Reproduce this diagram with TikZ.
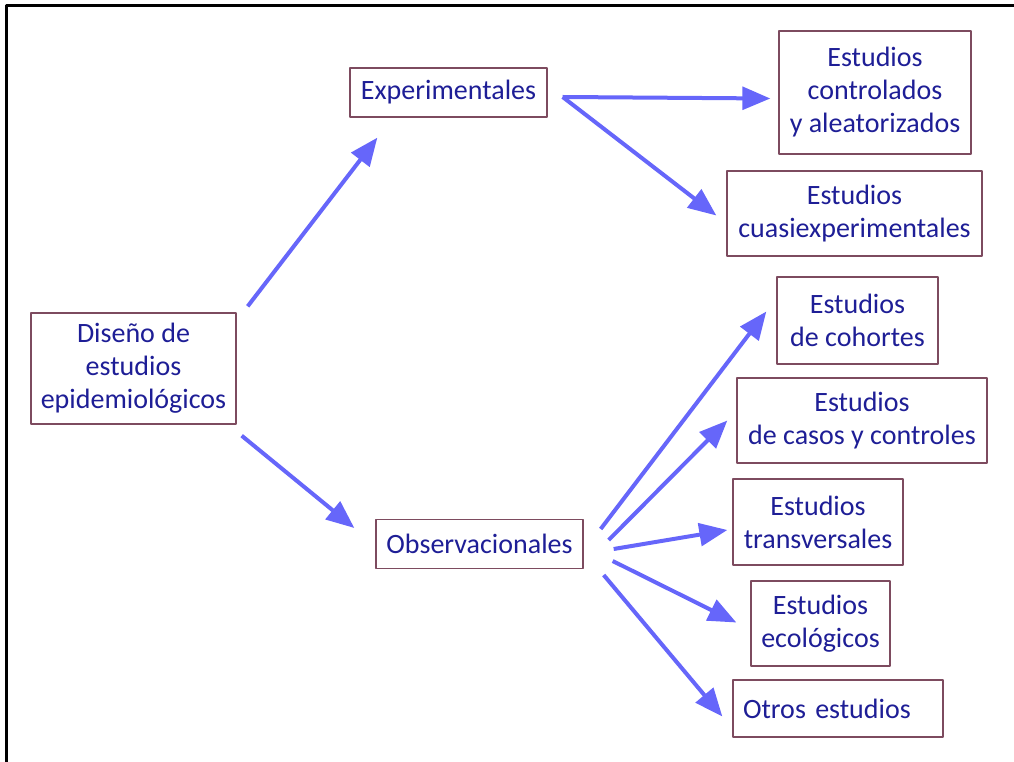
\documentclass[tikz,border=0pt]{standalone}
\usepackage{fontspec}
\setmainfont{Carlito}
\usetikzlibrary{arrows.meta}
\definecolor{txtblue}{RGB}{30,30,150}
\definecolor{boxline}{RGB}{125,75,95}
\definecolor{arrblue}{RGB}{102,102,250}
\begin{document}
\begin{tikzpicture}[x=0.75pt, y=-0.75pt, line join=round, font=\fontsize{21}{24.75}\selectfont,
	box/.style={draw=boxline, line width=1pt, fill=white, text=txtblue, align=center, inner sep=0pt},
	arr/.style={draw=arrblue, line width=3pt, -{Triangle[length=21pt,width=17pt]}}]
		\useasboundingbox (0,0) rectangle (1014,762);
		\draw[line width=2.25pt] (1014,6)--(6,6)--(6,762);
		% boxes
		\node[box, minimum width=153.75pt, minimum height=83.25pt] (dis) at (133.5,368.5) {Diseño de\\estudios\\epidemiológicos};
		\node[box, minimum width=147.75pt, minimum height=36.75pt] (exp) at (448.5,92.5) {Experimentales};
		\node[box, minimum width=155.25pt, minimum height=36.75pt] (obs) at (479.5,544) {Observacionales};
		\node[box, minimum width=144pt, minimum height=92.25pt] (ctrl) at (875,92.5) {Estudios\\controlados\\y aleatorizados};
		\node[box, minimum width=191.25pt, minimum height=63.75pt] (cuasi) at (854.5,213.5) {Estudios\\cuasiexperimentales};
		\node[box, minimum width=120.75pt, minimum height=65.25pt] (coh) at (857.5,320.5) {Estudios\\de cohortes};
		\node[box, minimum width=187.5pt, minimum height=63.75pt] (casos) at (862,420.5) {Estudios\\de casos y controles};
		\node[box, minimum width=127.5pt, minimum height=64.5pt] (trans) at (818,522) {Estudios\\transversales};
		\node[box, minimum width=104.25pt, minimum height=63.75pt] (eco) at (820.5,623.5) {Estudios\\ecológicos};
		\node[box, inner xsep=7.5pt, text width=142.5pt, align=left, minimum height=42.75pt] (otros) at (838,708.5) {Otros estudios};
		% arrows
		\draw[arr] ([shift={(11,-6)}]dis.north east) -- ([shift={(28,20)}]exp.south west);
		\draw[arr] ([shift={(5,11)}]dis.south east) -- ([shift={(-21,-16)}]obs.west);
		\draw[arr] ([shift={(15,4.5)}]exp.east) -- ([shift={(-8,6)}]ctrl.west);
		\draw[arr] ([shift={(15,4.5)}]exp.east) -- ([shift={(-10,2)}]cuasi.west);
		\draw[arr] ([shift={(17,-15)}]obs.east) -- ([shift={(-10,-9)}]coh.west);
		\draw[arr] ([shift={(25,-4)}]obs.east) -- ([shift={(-9,0)}]casos.west);
		\draw[arr] ([shift={(30,5)}]obs.east) -- ([shift={(-5,8)}]trans.west);
		\draw[arr] ([shift={(29,17)}]obs.east) -- ([shift={(-14,-1)}]eco.west);
		\draw[arr] ([shift={(20,31)}]obs.east) -- ([shift={(-10,8)}]otros.west);
\end{tikzpicture}
\end{document}
